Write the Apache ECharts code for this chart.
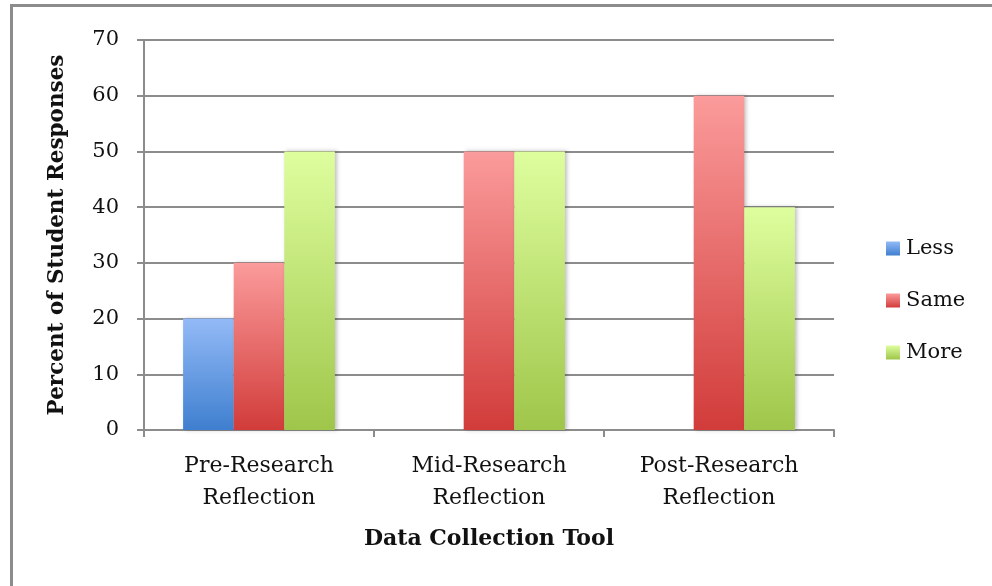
<!DOCTYPE html>
<html>
<head>
<meta charset="utf-8">
<title>Student Responses</title>
<script src="https://cdn.jsdelivr.net/npm/echarts@6/dist/echarts.min.js"></script>
<style>
    html, body { margin: 0; padding: 0; background: #fff; }
    #frame {
        position: absolute; left: 10px; top: 4px; width: 1000px; height: 600px;
        border-top: 3px solid #8c8c8c; border-left: 3px solid #8c8c8c;
    }
    #chart { position: absolute; left: 0; top: 0; width: 992px; height: 586px; }
</style>
</head>
<body>
<div id="frame"></div>
<div id="chart"></div>
<script>
// Data
var categories = ['Pre-Research\nReflection', 'Mid-Research\nReflection', 'Post-Research\nReflection'];
var lessValues = [20, 0, 0];
var sameValues = [30, 50, 60];
var moreValues = [50, 50, 40];
var yTicks = [0, 10, 20, 30, 40, 50, 60, 70];

var fontFamily = '"DejaVu Serif", serif';

// Vertical gradient helper
var grad = function(top, bottom) {
    return new echarts.graphic.LinearGradient(0, 0, 0, 1, [
        { offset: 0, color: top },
        { offset: 1, color: bottom }
    ]);
};

var barStyle = function(top, bottom) {
    return {
        color: grad(top, bottom),
        shadowColor: 'rgba(0,0,0,0.25)',
        shadowBlur: 4,
        shadowOffsetX: 2,
        shadowOffsetY: 0
    };
};

var chart = echarts.init(document.getElementById('chart'));

chart.setOption({
    animation: false,
    textStyle: { fontFamily: fontFamily, color: '#111' },

    grid: { left: 144, right: 158, top: 40, bottom: 156 },

    legend: {
        orient: 'vertical',
        left: 881,
        top: 233,
        itemWidth: 14,
        itemHeight: 14,
        itemGap: 31,
        icon: 'rect',
        textStyle: { fontSize: 21, fontFamily: fontFamily, color: '#111', padding: [0, 0, 0, 1] },
        data: ['Less', 'Same', 'More']
    },

    xAxis: {
        type: 'category',
        data: categories,
        name: 'Data Collection Tool',
        nameLocation: 'middle',
        nameGap: 98,
        nameTextStyle: { fontSize: 22, fontWeight: 'bold', fontFamily: fontFamily, color: '#111' },
        axisLine: { lineStyle: { color: '#8c8c8c', width: 2 } },
        axisTick: { show: true, length: 7, lineStyle: { color: '#8c8c8c', width: 2 } },
        axisLabel: { fontSize: 22, lineHeight: 32, margin: 20, color: '#111', fontFamily: fontFamily }
    },

    yAxis: {
        type: 'value',
        min: 0,
        max: yTicks[yTicks.length - 1],
        interval: yTicks[1] - yTicks[0],
        name: 'Percent of Student Responses',
        nameLocation: 'middle',
        nameGap: 76,
        nameTextStyle: { fontSize: 21.5, fontWeight: 'bold', fontFamily: fontFamily, color: '#111' },
        axisLine: { show: true, lineStyle: { color: '#8c8c8c', width: 2 } },
        axisTick: { show: true, length: 7, lineStyle: { color: '#8c8c8c', width: 2 } },
        axisLabel: { fontSize: 21, margin: 25, color: '#111', fontFamily: fontFamily },
        splitLine: { lineStyle: { color: '#8c8c8c', width: 2 } }
    },

    series: [
        {
            name: 'Less',
            type: 'bar',
            barGap: 0,
            barCategoryGap: '34%',
            itemStyle: barStyle('#93baf7', '#3f7fcf'),
            data: lessValues
        },
        {
            name: 'Same',
            type: 'bar',
            barGap: 0,
            barCategoryGap: '34%',
            itemStyle: barStyle('#fb9b9b', '#d13c3a'),
            data: sameValues
        },
        {
            name: 'More',
            type: 'bar',
            barGap: 0,
            barCategoryGap: '34%',
            itemStyle: barStyle('#defe9e', '#9fc64a'),
            data: moreValues
        }
    ]
});
</script>
</body>
</html>
